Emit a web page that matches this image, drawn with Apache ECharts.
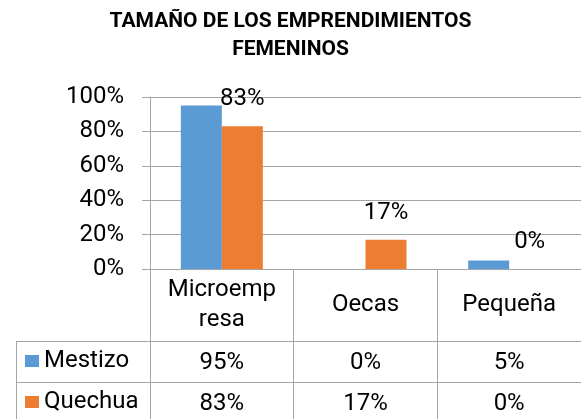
<!DOCTYPE html>
<html>
<head>
<meta charset="utf-8">
<title>Tamaño de los emprendimientos femeninos</title>
<script src="https://cdn.jsdelivr.net/npm/echarts@6/dist/echarts.min.js"></script>
<style>
    html, body { margin: 0; padding: 0; background: #fff; }
    #main { width: 581px; height: 419px; }
</style>
</head>
<body>
<div id="main"></div>
<script>
(function (window, echarts) {
    "use strict";

    // datos
    var categorias = ['Microempresa', 'Oecas', 'Pequeña'];
    var mestizo = [0.95, 0, 0.05];
    var quechua = [0.83, 0.17, 0];
    var ticksY = [0, 0.2, 0.4, 0.6, 0.8, 1];

    var FONT = 'Roboto';
    var GRIS = '#a5a5a5';
    var AZUL = '#5b9bd5';
    var NARANJA = '#ed7d31';

    // geometría del área y de la tabla de datos
    var gridLeft = 150, gridTop = 97, gridW = 432, gridH = 172;
    var headerH = 72, rowH = [41, 42];
    var tableLeft = 16;
    var gridBottom = gridTop + gridH;

    var pct = function (v) {
        return Math.round(v * 100) + '%';
    };

    // Excel corta "Microempresa" en dos líneas
    var partir = function (s) {
        return s.length > 8 ? s.slice(0, 8) + '\n' + s.slice(8) : s;
    };

    var filaEje = function (valores, offset, alto) {
        return {
            type: 'category',
            gridIndex: 0,
            position: 'bottom',
            offset: offset,
            data: categorias,
            axisLine: { show: true, lineStyle: { color: GRIS, width: 1 } },
            axisTick: { show: true, length: alto, lineStyle: { color: GRIS } },
            axisLabel: {
                margin: alto / 2 + 1,
                verticalAlign: 'middle',
                fontFamily: FONT,
                fontSize: 24,
                color: '#000',
                formatter: function (v, i) { return pct(valores[i]); }
            },
            splitLine: { show: false }
        };
    };

    var row1Top = gridBottom + headerH;
    var row2Top = row1Top + rowH[0];

    var chart = echarts.init(document.getElementById('main'));

    var option = {
        animation: false,
        title: {
            text: 'TAMAÑO DE LOS EMPRENDIMIENTOS\nFEMENINOS',
            left: 'center',
            top: 8,
            padding: 0,
            textStyle: {
                fontFamily: FONT,
                fontWeight: 'bold',
                fontSize: 21,
                lineHeight: 28,
                color: '#000'
            }
        },
        legend: {
            orient: 'vertical',
            left: 25,
            top: row1Top + 8,
            padding: 0,
            itemWidth: 14,
            itemHeight: 12,
            itemGap: 17,
            icon: 'rect',
            textStyle: { fontFamily: FONT, fontSize: 24, color: '#000' },
            data: ['Mestizo', 'Quechua']
        },
        grid: { left: gridLeft, top: gridTop, width: gridW, height: gridH },
        xAxis: [
            {
                type: 'category',
                data: categorias,
                axisLine: { show: true, lineStyle: { color: GRIS } },
                axisTick: { show: true, length: headerH, lineStyle: { color: GRIS } },
                axisLabel: {
                    margin: headerH / 2,
                    verticalAlign: 'middle',
                    fontFamily: FONT,
                    fontSize: 24,
                    lineHeight: 30,
                    color: '#000',
                    formatter: partir
                }
            },
            filaEje(mestizo, headerH, rowH[0]),
            filaEje(quechua, headerH + rowH[0], rowH[1])
        ],
        yAxis: {
            type: 'value',
            min: ticksY[0],
            max: ticksY[ticksY.length - 1],
            interval: ticksY[1] - ticksY[0],
            axisLine: { show: true, lineStyle: { color: GRIS } },
            axisTick: { show: true, length: 8, lineStyle: { color: GRIS } },
            splitLine: { lineStyle: { color: GRIS } },
            axisLabel: {
                margin: 26,
                fontFamily: FONT,
                fontSize: 24,
                color: '#000',
                formatter: pct
            }
        },
        series: [
            {
                name: 'Mestizo',
                type: 'bar',
                data: mestizo,
                barWidth: 41,
                barGap: '0%',
                itemStyle: { color: AZUL }
            },
            {
                name: 'Quechua',
                type: 'bar',
                data: quechua,
                barWidth: 41,
                itemStyle: { color: NARANJA },
                label: {
                    show: true,
                    position: 'top',
                    distance: 15,
                    fontFamily: FONT,
                    fontSize: 24,
                    color: '#000',
                    formatter: function (p) { return pct(p.value); }
                }
            }
        ],
        // bordes de la columna de la leyenda en la tabla
        graphic: [
            { type: 'line', silent: true, shape: { x1: tableLeft, y1: row1Top + 0.5, x2: gridLeft, y2: row1Top + 0.5 }, style: { stroke: GRIS, lineWidth: 1 } },
            { type: 'line', silent: true, shape: { x1: tableLeft, y1: row2Top + 0.5, x2: gridLeft, y2: row2Top + 0.5 }, style: { stroke: GRIS, lineWidth: 1 } },
            { type: 'line', silent: true, shape: { x1: tableLeft + 0.5, y1: row1Top, x2: tableLeft + 0.5, y2: row2Top + rowH[1] }, style: { stroke: GRIS, lineWidth: 1 } }
        ]
    };

    chart.setOption(option);

})(window, echarts);
</script>
</body>
</html>
